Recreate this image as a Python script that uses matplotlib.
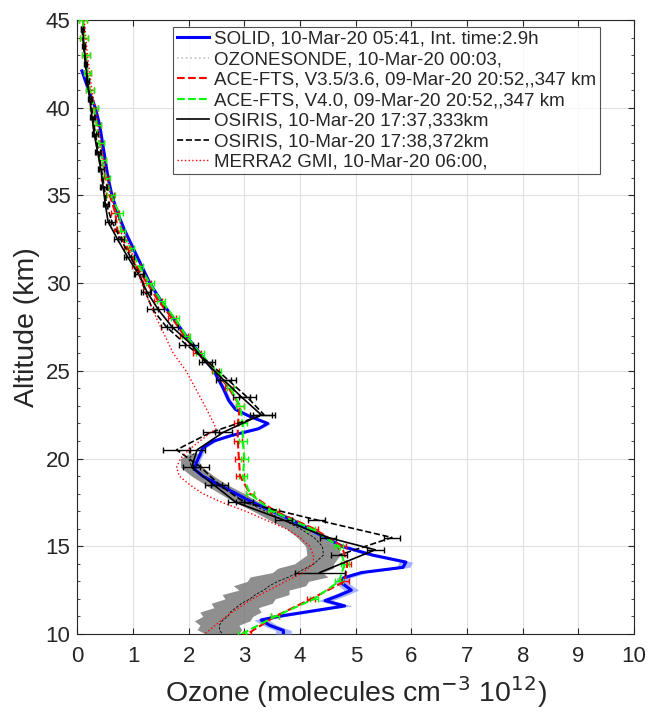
import numpy as np
import matplotlib
matplotlib.use("Agg")
import matplotlib.pyplot as plt
from matplotlib.lines import Line2D
from matplotlib.ticker import MultipleLocator

plt.rcParams['font.family'] = ['Liberation Sans', 'DejaVu Sans']

# SOLID retrieval
solid_alt = [42.1, 41, 40, 39, 38, 37, 36, 35, 34, 33, 32, 31, 30, 29, 28, 27, 26, 25, 24,
             23.3, 22.8, 22.4, 22.0, 21.7, 21.3, 21.0, 20.6, 20.2, 19.8, 19.4, 19, 18.5, 18,
             17.5, 17, 16.5, 16, 15.5, 15, 14.5, 14.1, 13.8, 13.5, 13.2, 12.9, 12.5, 12.2,
             11.9, 11.6, 11.3, 11.0, 10.8, 10.5, 10.2, 10.0]
solid_o3 = [0.08, 0.2, 0.32, 0.40, 0.45, 0.5, 0.55, 0.62, 0.72, 0.85, 1.0, 1.15, 1.3, 1.5,
            1.72, 1.95, 2.2, 2.45, 2.62, 2.72, 2.84, 3.1, 3.42, 3.25, 2.75, 2.45, 2.25, 2.2,
            2.14, 2.1, 2.25, 2.55, 2.85, 3.15, 3.5, 3.85, 4.15, 4.45, 4.75, 5.3, 5.9, 5.85,
            5.1, 4.78, 4.75, 4.92, 4.7, 4.45, 4.8, 4.2, 3.6, 3.3, 3.45, 3.7, 3.7]
solid_err = [0.01, 0.01, 0.01, 0.01, 0.01, 0.01, 0.01, 0.01, 0.01, 0.01, 0.01, 0.01, 0.02,
             0.02, 0.02, 0.02, 0.03, 0.03, 0.04, 0.04, 0.04, 0.05, 0.05, 0.05, 0.05, 0.05,
             0.05, 0.05, 0.05, 0.05, 0.05, 0.06, 0.06, 0.06, 0.07, 0.07, 0.08, 0.08, 0.09,
             0.1, 0.12, 0.12, 0.12, 0.12, 0.12, 0.13, 0.13, 0.13, 0.13, 0.13, 0.13, 0.13,
             0.13, 0.14, 0.14]

# Ozonesonde (mean and spread)
sonde_alt = [20.3, 20, 19.5, 19, 18.5, 18, 17.5, 17, 16.5, 16, 15.5, 15, 14.5, 14, 13.75,
             13.5, 13.25, 13, 12.75, 12.5, 12.25, 12, 11.75, 11.5, 11.25, 11, 10.75, 10.5,
             10.25, 10]
sonde_o3 = [2.1, 2.0, 2.05, 2.25, 2.5, 2.78, 3.05, 3.38, 3.7, 4.0, 4.25, 4.4, 4.42, 4.25,
            4.1, 3.95, 3.8, 3.6, 3.45, 3.35, 3.2, 3.1, 2.95, 2.85, 2.75, 2.7, 2.6, 2.55,
            2.55, 2.6]
sonde_spread = [0.08, 0.15, 0.2, 0.2, 0.2, 0.22, 0.22, 0.22, 0.25, 0.25, 0.3, 0.3, 0.3,
                0.35, 0.5, 0.45, 0.7, 0.55, 0.65, 0.45, 0.6, 0.45, 0.55, 0.4, 0.55, 0.45,
                0.5, 0.35, 0.4, 0.3]

# ACE-FTS
ace_alt = [45, 44, 43, 42, 41, 40, 39, 38, 37, 36, 35, 34, 33, 32, 31, 30, 29, 28, 27, 26,
           25, 24, 23, 22, 21, 20, 19, 18, 17, 16, 15, 14, 13, 12, 11, 10]
ace35_o3 = [0.1, 0.12, 0.15, 0.18, 0.22, 0.3, 0.35, 0.4, 0.45, 0.5, 0.58, 0.68, 0.72, 0.9,
            1.05, 1.25, 1.45, 1.7, 1.92, 2.15, 2.48, 2.72, 2.92, 2.88, 2.88, 2.9, 2.92, 3.1,
            3.55, 4.25, 4.75, 4.85, 4.8, 4.2, 3.55, 3.05]
ace40_o3 = [0.1, 0.12, 0.15, 0.18, 0.22, 0.3, 0.35, 0.4, 0.45, 0.52, 0.6, 0.75, 0.78, 0.95,
            1.1, 1.3, 1.5, 1.75, 1.95, 2.2, 2.5, 2.75, 2.92, 2.97, 2.97, 3.0, 2.97, 3.1,
            3.5, 4.2, 4.7, 4.8, 4.7, 4.25, 3.55, 2.95]
ace_err = 0.07

# OSIRIS
os1_alt = [44.5, 43.5, 42.5, 41.5, 40.5, 39.5, 38.5, 37.5, 36.5, 35.5, 34.5, 33.5, 32.5,
           31.5, 30.5, 29.5, 28.5, 27.5, 26.5, 25.5, 24.5, 23.5, 22.5, 21.5, 20.5, 19.5,
           18.5, 17.5, 16.5, 15.5, 14.8, 13.5]
os1_o3 = [0.09, 0.12, 0.15, 0.18, 0.22, 0.26, 0.3, 0.36, 0.42, 0.46, 0.5, 0.55, 0.72, 0.9,
          1.1, 1.25, 1.45, 1.7, 2.05, 2.3, 2.62, 2.95, 3.3, 2.62, 2.15, 2.05, 2.45, 2.85,
          3.7, 4.5, 5.35, 4.35]
os1_err = [0.02, 0.02, 0.02, 0.03, 0.03, 0.03, 0.04, 0.04, 0.05, 0.05, 0.05, 0.06, 0.06,
           0.07, 0.08, 0.08, 0.1, 0.1, 0.12, 0.12, 0.14, 0.15, 0.2, 0.15, 0.15, 0.15, 0.15,
           0.15, 0.15, 0.15, 0.15, 0.45]
os2_alt = [44.5, 43.5, 42.5, 41.5, 40.5, 39.5, 38.5, 37.5, 36.5, 35.5, 34.5, 33.5, 32.5,
           31.5, 30.5, 29.5, 28.5, 27.5, 26.5, 25.5, 24.5, 23.5, 22.5, 21.5, 20.5, 19.5,
           18.5, 17.5, 16.5, 15.5, 14.5]
os2_o3 = [0.08, 0.11, 0.14, 0.18, 0.23, 0.28, 0.32, 0.38, 0.43, 0.48, 0.52, 0.62, 0.78,
          0.95, 1.12, 1.22, 1.35, 1.6, 1.95, 2.35, 2.7, 3.05, 3.35, 2.4, 1.78, 2.22, 2.55,
          3.0, 4.3, 5.65, 4.7]
os2_err = [0.02, 0.02, 0.02, 0.03, 0.03, 0.03, 0.04, 0.04, 0.05, 0.05, 0.05, 0.06, 0.06,
           0.07, 0.08, 0.08, 0.1, 0.1, 0.12, 0.12, 0.14, 0.15, 0.2, 0.15, 0.25, 0.15, 0.15,
           0.15, 0.15, 0.15, 0.15]

# MERRA2 GMI
merra_alt = [45, 44, 43, 42, 41, 40, 39, 38, 37, 36, 35, 34, 33, 32, 31, 30, 29, 28, 27,
             26, 25, 24, 23, 22, 21.7, 21, 20.5, 20, 19.5, 19, 18.5, 18, 17.5, 17, 16.5,
             16, 15.5, 15, 14.5, 14, 13.5, 13, 12.5, 12, 11.5, 11, 10.5, 10]
merra_o3 = [0.12, 0.15, 0.18, 0.22, 0.26, 0.32, 0.37, 0.42, 0.47, 0.53, 0.6, 0.7, 0.82,
            0.95, 1.05, 1.15, 1.28, 1.42, 1.57, 1.72, 1.95, 2.12, 2.29, 2.45, 2.49, 2.2,
            2.0, 1.85, 1.78, 1.83, 2.02, 2.25, 2.6, 3.02, 3.38, 3.75, 4.0, 4.17, 4.24, 4.24,
            4.05, 3.74, 3.44, 3.14, 2.9, 2.67, 2.48, 2.28]

labels = ["SOLID, 10-Mar-20 05:41, Int. time:2.9h",
          "OZONESONDE, 10-Mar-20 00:03,",
          "ACE-FTS, V3.5/3.6, 09-Mar-20 20:52,,347 km",
          "ACE-FTS, V4.0, 09-Mar-20 20:52,,347 km",
          "OSIRIS, 10-Mar-20 17:37,333km",
          "OSIRIS, 10-Mar-20 17:38,372km",
          "MERRA2 GMI, 10-Mar-20 06:00,"]

fig = plt.figure(figsize=(6.51, 7.15), dpi=100)
ax = fig.add_axes([0.119, 0.1133, 0.855, 0.8587])

txt = (0.15, 0.15, 0.15)

# ozonesonde spread and profile
s_o3 = np.array(sonde_o3)
s_sp = np.array(sonde_spread)
ax.fill_betweenx(sonde_alt, s_o3 - s_sp, s_o3 + s_sp, color=(0.45, 0.45, 0.45),
                 alpha=0.8, lw=0, zorder=2)
ax.plot(sonde_o3, sonde_alt, color='k', ls=(0, (3, 2)), lw=0.6, zorder=3)

# SOLID
so = np.array(solid_o3)
se = np.array(solid_err)
ax.fill_betweenx(solid_alt, so - se, so + se, color=(0.55, 0.6, 1.0),
                 alpha=0.75, lw=0, zorder=3)
ax.plot(solid_o3, solid_alt, color=(0.0, 0.0, 1.0), lw=2.2, zorder=4)

# ACE-FTS
ax.errorbar(ace35_o3, ace_alt, xerr=ace_err, color=(1.0, 0.0, 0.0), ls='--', lw=1.5,
            capsize=2, elinewidth=1.0, zorder=5)
ax.errorbar(ace40_o3, ace_alt, xerr=ace_err, color=(0.0, 1.0, 0.0), ls='--', lw=1.5,
            capsize=2, elinewidth=1.0, zorder=5)

# OSIRIS
ax.errorbar(os1_o3, os1_alt, xerr=os1_err, color='k', ls='-', lw=1.2,
            capsize=2.5, elinewidth=1.0, zorder=6)
ax.errorbar(os2_o3, os2_alt, xerr=os2_err, color='k', ls='--', lw=1.2,
            capsize=2.5, elinewidth=1.0, zorder=6)

# MERRA2
ax.plot(merra_o3, merra_alt, color=(1.0, 0.0, 0.0), ls=':', lw=1.0, zorder=7)

ax.set_xlim(0, 10)
ax.set_ylim(10, 45)
ax.xaxis.set_major_locator(MultipleLocator(1))
ax.yaxis.set_major_locator(MultipleLocator(5))
ax.yaxis.set_minor_locator(MultipleLocator(1))
ax.grid(True, which='major', color=(0.88, 0.88, 0.88), lw=0.8)
ax.set_axisbelow(True)
ax.tick_params(which='both', direction='in', top=True, right=True, colors=txt,
               labelsize=16, labelcolor=txt)
ax.tick_params(which='major', length=4)
ax.tick_params(which='minor', length=2.5)
ax.tick_params(axis='x', pad=9)
ax.tick_params(axis='y', pad=5)
for s in ax.spines.values():
    s.set_color(txt)
    s.set_linewidth(0.8)

ax.set_xlabel("Ozone (molecules cm$^{-3}$ 10$^{12}$)", fontsize=20.5, color=txt,
              labelpad=5)
ax.set_ylabel("Altitude (km)", fontsize=20.5, color=txt, labelpad=4)

handles = [
    Line2D([], [], color=(0, 0, 1), lw=2.2),
    Line2D([], [], color=(0.75, 0.75, 0.75), ls=':', lw=1.2),
    Line2D([], [], color=(1, 0, 0), ls='--', lw=1.5),
    Line2D([], [], color=(0, 1, 0), ls='--', lw=1.5),
    Line2D([], [], color='k', ls='-', lw=1.2),
    Line2D([], [], color='k', ls='--', lw=1.2),
    Line2D([], [], color=(1, 0, 0), ls=':', lw=1.0),
]
leg = ax.legend(handles, labels, loc='upper left', bbox_to_anchor=(0.172, 0.989),
                fontsize=13.5, frameon=True, fancybox=False, edgecolor=txt,
                handlelength=1.7, handletextpad=0.3, labelspacing=0.18,
                borderpad=0.2, borderaxespad=0.0, labelcolor=txt)
leg.get_frame().set_linewidth(0.8)

fig.savefig("out.png", dpi=100)
